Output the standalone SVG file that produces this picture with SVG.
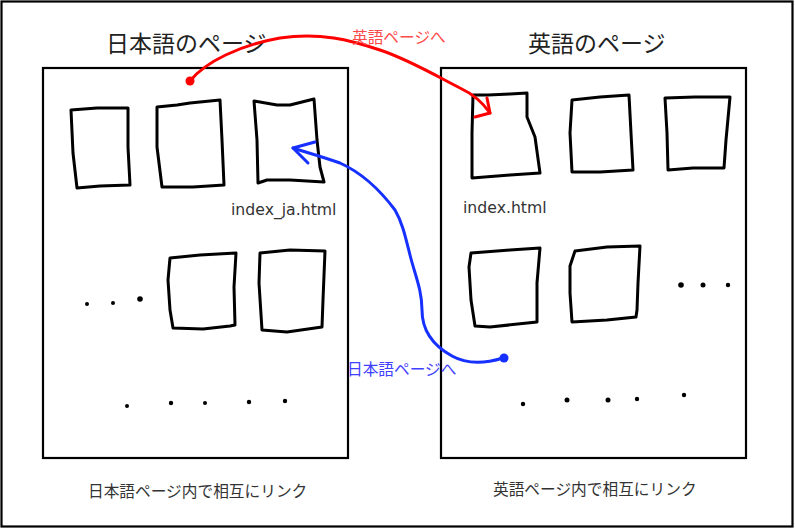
<svg xmlns="http://www.w3.org/2000/svg" width="795" height="529" viewBox="0 0 795 529">
<style>
.frame{fill:none;stroke:#000;stroke-width:2.2}
.sk{fill:none;stroke:#000;stroke-width:3;stroke-linejoin:round;stroke-linecap:round}
.dot{fill:#000}
.title{font-family:"DejaVu Sans","Noto Sans CJK JP",sans-serif;font-size:23px;fill:#222}
.lbl{font-family:"DejaVu Sans","Noto Sans CJK JP",sans-serif;font-size:15.7px;fill:#333}
.red{fill:none;stroke:#f00;stroke-width:3;stroke-linecap:round;stroke-linejoin:round}
.blue{fill:none;stroke:#1530ff;stroke-width:3;stroke-linecap:round;stroke-linejoin:round}
</style>
<rect x="0" y="0" width="795" height="529" fill="#fff"/>
<rect class="frame" x="1.5" y="1.5" width="791" height="525" stroke-width="2.5"/>

<g id="ja-page">
  <rect class="frame" x="43" y="68" width="305" height="390"/>
  <text class="title" x="106" y="52">日本語のページ</text>
  <text class="lbl" x="231" y="215">index_ja.html</text>
  <text class="lbl" x="88" y="497">日本語ページ内で相互にリンク</text>
  <path class="sk" d="M71,110 L97,108 L128,108 L128,147 L130,185 L100,186 L77,188 L73,153 Z"/>
  <path class="sk" d="M157,107 L177,105 L190,103 L220,100 L222,140 L224,185 L193,187 L162,187 L157,147 Z"/>
  <path class="sk" d="M254,101 L277,105 L290,105 L314,99 L317,140 L320,167 L324,182 L290,180 L267,180 L258,183 L257,140 Z"/>
  <path class="sk" d="M170,258 L200,255 L236,253 L234,287 L235,325 L230,326 L203,329 L173,328 L170,310 L168,280 Z"/>
  <path class="sk" d="M260,253 L290,250 L325,251 L323,300 L322,327 L287,332 L262,330 L259,283 Z"/>
  <circle class="dot" cx="87" cy="304" r="2"/>
  <circle class="dot" cx="113" cy="303" r="2"/>
  <circle class="dot" cx="140" cy="299" r="2.8"/>
  <circle class="dot" cx="127" cy="406" r="2"/>
  <circle class="dot" cx="171" cy="403" r="2.2"/>
  <circle class="dot" cx="205" cy="403" r="2"/>
  <circle class="dot" cx="249" cy="402" r="2.2"/>
  <circle class="dot" cx="285" cy="401" r="2.2"/>
</g>

<g id="en-page">
  <rect class="frame" x="441" y="68" width="305" height="390"/>
  <text class="title" x="528" y="52">英語のページ</text>
  <text class="lbl" x="463" y="213">index.html</text>
  <text class="lbl" x="493" y="495">英語ページ内で相互にリンク</text>
  <path class="sk" d="M473,95 L488,95 L510,94 L527,93 L527,117 L535,137 L540,173 L510,175 L472,178 L472,133 Z"/>
  <path class="sk" d="M572,100 L600,97 L629,95 L631,133 L633,170 L600,172 L572,172 L570,133 Z"/>
  <path class="sk" d="M665,98 L695,97 L730,97 L726,140 L724,168 L693,168 L668,170 L667,133 Z"/>
  <path class="sk" d="M471,253 L510,250 L540,248 L537,283 L537,322 L490,327 L475,326 L471,300 L469,267 Z"/>
  <path class="sk" d="M575,251 L607,247 L640,246 L638,283 L637,310 L636,317 L607,320 L572,322 L570,293 L570,266 Z"/>
  <circle class="dot" cx="681" cy="285" r="2.8"/>
  <circle class="dot" cx="703" cy="285" r="2.5"/>
  <circle class="dot" cx="728" cy="285" r="2.2"/>
  <circle class="dot" cx="523" cy="404" r="2.2"/>
  <circle class="dot" cx="567" cy="400" r="2.5"/>
  <circle class="dot" cx="608" cy="400" r="2.5"/>
  <circle class="dot" cx="637" cy="399" r="2.2"/>
  <circle class="dot" cx="684" cy="395" r="2.2"/>
</g>

<g id="connectors">
  <circle cx="190" cy="81" r="4.5" fill="#f00"/>
  <path class="red" d="M190,81 C205,62 240,45 280,38 C320,32 350,40 380,50 C410,60 440,78 460,88 C475,95 483,103 490,113"/>
  <path class="red" d="M487,98 L490,113 L475,117"/>
  <text x="352" y="43" font-family="DejaVu Sans,'Noto Sans CJK JP',sans-serif" font-size="15.7" fill="#ff4a4a">英語ページへ</text>

  <circle cx="504" cy="358" r="4.5" fill="#1530ff"/>
  <path class="blue" d="M503,358 C490,362 470,366 452,356 C432,345 422,330 422,310 C422,290 415,275 410,255 C405,235 402,222 395,210 C380,190 360,172 340,163 C320,156 305,152 293,148"/>
  <path class="blue" d="M315,142 L293,148 L308,163"/>
  <text x="347" y="375" font-family="DejaVu Sans,'Noto Sans CJK JP',sans-serif" font-size="15.7" fill="#4040ff">日本語ページへ</text>
</g>
</svg>
